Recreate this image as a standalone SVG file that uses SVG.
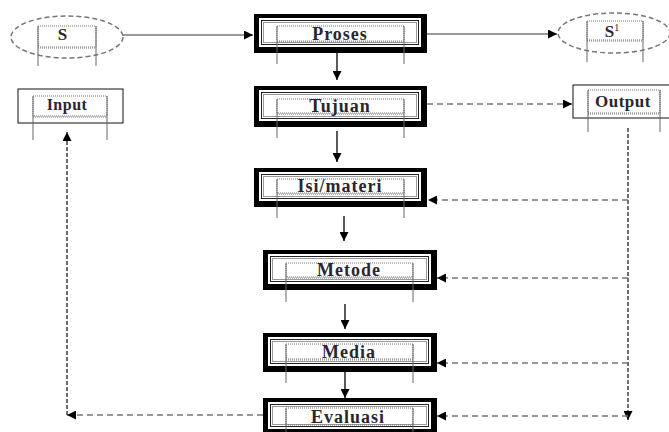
<svg xmlns="http://www.w3.org/2000/svg" width="669" height="432" viewBox="0 0 669 432">
<defs>
<marker id="ah" viewBox="0 0 10 10" refX="10" refY="5" markerWidth="9" markerHeight="9" markerUnits="userSpaceOnUse" orient="auto">
<path d="M0,0 L10,5 L0,10 z" fill="#000"/>
</marker>
</defs>
<style>
text{font-family:"Liberation Serif","Times New Roman",serif;font-size:18px;font-weight:bold;fill:#2a2630;text-anchor:middle;letter-spacing:1px}
.frame{fill:none;stroke:#777;stroke-width:1;stroke-dasharray:1 1}
.tick{stroke:#666;stroke-width:1;fill:none}
.out{fill:#000}
.in{fill:#fff}
.l1{fill:none;stroke:#222;stroke-width:1}
.l2{fill:none;stroke:#999;stroke-width:1}
.solid{stroke:#777;stroke-width:1.3;fill:none}
.down{stroke:#000;stroke-width:1.3;fill:none}
.dash{stroke:#777;stroke-width:1.3;stroke-dasharray:6 4;fill:none}
.vdash{stroke:#222;stroke-width:1.3;stroke-dasharray:4 2;fill:none}
.ell{fill:none;stroke:#777;stroke-width:1.5;stroke-dasharray:5 3}
.plain{fill:#fff;stroke:#111;stroke-width:1}
</style>

<g id="connectors">
<line class="solid" x1="123" y1="35" x2="253" y2="35" marker-end="url(#ah)"/>
<line class="solid" x1="427" y1="34" x2="557" y2="34" marker-end="url(#ah)"/>
<line class="dash" x1="427" y1="104" x2="572" y2="104" marker-end="url(#ah)"/>
<line class="down" x1="337" y1="53" x2="337" y2="80" marker-end="url(#ah)"/>
<line class="down" x1="337" y1="131" x2="337" y2="162" marker-end="url(#ah)"/>
<line class="down" x1="344" y1="216" x2="344" y2="241" marker-end="url(#ah)"/>
<line class="down" x1="345" y1="304" x2="345" y2="329" marker-end="url(#ah)"/>
<line class="down" x1="345" y1="372" x2="345" y2="398" marker-end="url(#ah)"/>
<line class="vdash" x1="628" y1="128" x2="628" y2="420" marker-end="url(#ah)"/>
<line class="dash" x1="628" y1="200" x2="428" y2="200" marker-end="url(#ah)"/>
<line class="dash" x1="628" y1="278" x2="437" y2="278" marker-end="url(#ah)"/>
<line class="dash" x1="628" y1="363" x2="437" y2="363" marker-end="url(#ah)"/>
<line class="dash" x1="628" y1="416" x2="437" y2="416" marker-end="url(#ah)"/>
<line class="dash" x1="263" y1="415" x2="67" y2="415" marker-end="url(#ah)"/>
<line class="vdash" x1="67" y1="415" x2="67" y2="132" marker-end="url(#ah)"/>
</g>

<g id="node-s">
<ellipse class="ell" cx="67" cy="37" rx="56" ry="21"/>
<rect class="frame" x="38" y="26" width="58" height="21"/>
<line class="frame" x1="38" y1="48" x2="96" y2="48"/>
<line class="tick" x1="38" y1="26" x2="38" y2="66"/>
<line class="tick" x1="96" y1="26" x2="96" y2="66"/>
<text x="63" y="40" style="font-size:17px">S</text>
</g>

<g id="node-input">
<rect class="plain" x="18" y="89" width="105" height="34"/>
<rect class="frame" x="33" y="96" width="74" height="20"/>
<line class="frame" x1="33" y1="117" x2="107" y2="117"/>
<line class="tick" x1="33" y1="96" x2="33" y2="140"/>
<line class="tick" x1="107" y1="96" x2="107" y2="140"/>
<text x="67" y="110" style="font-size:16px;letter-spacing:0.5px">Input</text>
</g>

<g id="node-s1">
<ellipse class="ell" cx="614" cy="33" rx="56" ry="20"/>
<rect class="frame" x="587" y="21" width="56" height="19"/>
<line class="frame" x1="587" y1="41" x2="643" y2="41"/>
<line class="tick" x1="587" y1="21" x2="587" y2="62"/>
<line class="tick" x1="643" y1="21" x2="643" y2="62"/>
<text x="612" y="37" style="font-size:17px;letter-spacing:0">S<tspan style="font-size:10px;font-weight:normal" dy="-6">1</tspan></text>
</g>

<g id="node-output">
<rect class="plain" x="573" y="85" width="100" height="33"/>
<rect class="frame" x="588" y="90" width="72" height="23"/>
<line class="frame" x1="588" y1="114" x2="660" y2="114"/>
<line class="tick" x1="588" y1="90" x2="588" y2="132"/>
<line class="tick" x1="660" y1="90" x2="660" y2="132"/>
<text x="623" y="107" style="font-size:17px;letter-spacing:0.5px">Output</text>
</g>

<g id="node-proses">
<rect class="out" x="254" y="14" width="173" height="39"/>
<rect class="in" x="259" y="18" width="162" height="29"/>
<rect class="l1" x="261.5" y="20.5" width="157" height="24"/>
<rect class="l2" x="263.5" y="22.5" width="153" height="20"/>
<rect class="frame" x="277" y="26" width="127" height="15"/>
<line class="frame" x1="277" y1="42" x2="404" y2="42"/>
<line class="tick" x1="277" y1="26" x2="277" y2="64"/>
<line class="tick" x1="404" y1="26" x2="404" y2="64"/>
<text x="340" y="40">Proses</text>
</g>

<g id="node-tujuan">
<rect class="out" x="254" y="86" width="173" height="41"/>
<rect class="in" x="259" y="90" width="162" height="31"/>
<rect class="l1" x="261.5" y="92.5" width="157" height="26"/>
<rect class="l2" x="263.5" y="94.5" width="153" height="22"/>
<rect class="frame" x="277" y="99" width="127" height="14"/>
<line class="frame" x1="277" y1="114" x2="404" y2="114"/>
<line class="tick" x1="277" y1="99" x2="277" y2="138"/>
<line class="tick" x1="404" y1="99" x2="404" y2="138"/>
<text x="340" y="112">Tujuan</text>
</g>

<g id="node-isi">
<rect class="out" x="254" y="168" width="173" height="39"/>
<rect class="in" x="259" y="172" width="162" height="29"/>
<rect class="l1" x="261.5" y="174.5" width="157" height="24"/>
<rect class="l2" x="263.5" y="176.5" width="153" height="20"/>
<rect class="frame" x="277" y="179" width="127" height="14"/>
<line class="frame" x1="277" y1="194" x2="404" y2="194"/>
<line class="tick" x1="277" y1="179" x2="277" y2="218"/>
<line class="tick" x1="404" y1="179" x2="404" y2="218"/>
<text x="340" y="192">Isi/materi</text>
</g>

<g id="node-metode">
<rect class="out" x="263" y="250" width="174" height="40"/>
<rect class="in" x="268" y="254" width="163" height="30"/>
<rect class="l1" x="270.5" y="256.5" width="158" height="25"/>
<rect class="l2" x="272.5" y="258.5" width="154" height="21"/>
<rect class="frame" x="286" y="263" width="127" height="14"/>
<line class="frame" x1="286" y1="278" x2="413" y2="278"/>
<line class="tick" x1="286" y1="263" x2="286" y2="302"/>
<line class="tick" x1="413" y1="263" x2="413" y2="302"/>
<text x="349" y="276">Metode</text>
</g>

<g id="node-media">
<rect class="out" x="263" y="333" width="174" height="39"/>
<rect class="in" x="268" y="337" width="163" height="29"/>
<rect class="l1" x="270.5" y="339.5" width="158" height="24"/>
<rect class="l2" x="272.5" y="341.5" width="154" height="20"/>
<rect class="frame" x="286" y="344" width="127" height="15"/>
<line class="frame" x1="286" y1="360" x2="413" y2="360"/>
<line class="tick" x1="286" y1="344" x2="286" y2="383"/>
<line class="tick" x1="413" y1="344" x2="413" y2="383"/>
<text x="349" y="358">Media</text>
</g>

<g id="node-evaluasi">
<rect class="out" x="263" y="398" width="174" height="36"/>
<rect class="in" x="268" y="402" width="163" height="27"/>
<rect class="l1" x="270.5" y="404.5" width="158" height="22"/>
<rect class="l2" x="272.5" y="406.5" width="154" height="18"/>
<rect class="frame" x="286" y="408" width="127" height="17"/>
<line class="tick" x1="286" y1="408" x2="286" y2="432"/>
<line class="tick" x1="413" y1="408" x2="413" y2="432"/>
<text x="348" y="423">Evaluasi</text>
</g>
</svg>
